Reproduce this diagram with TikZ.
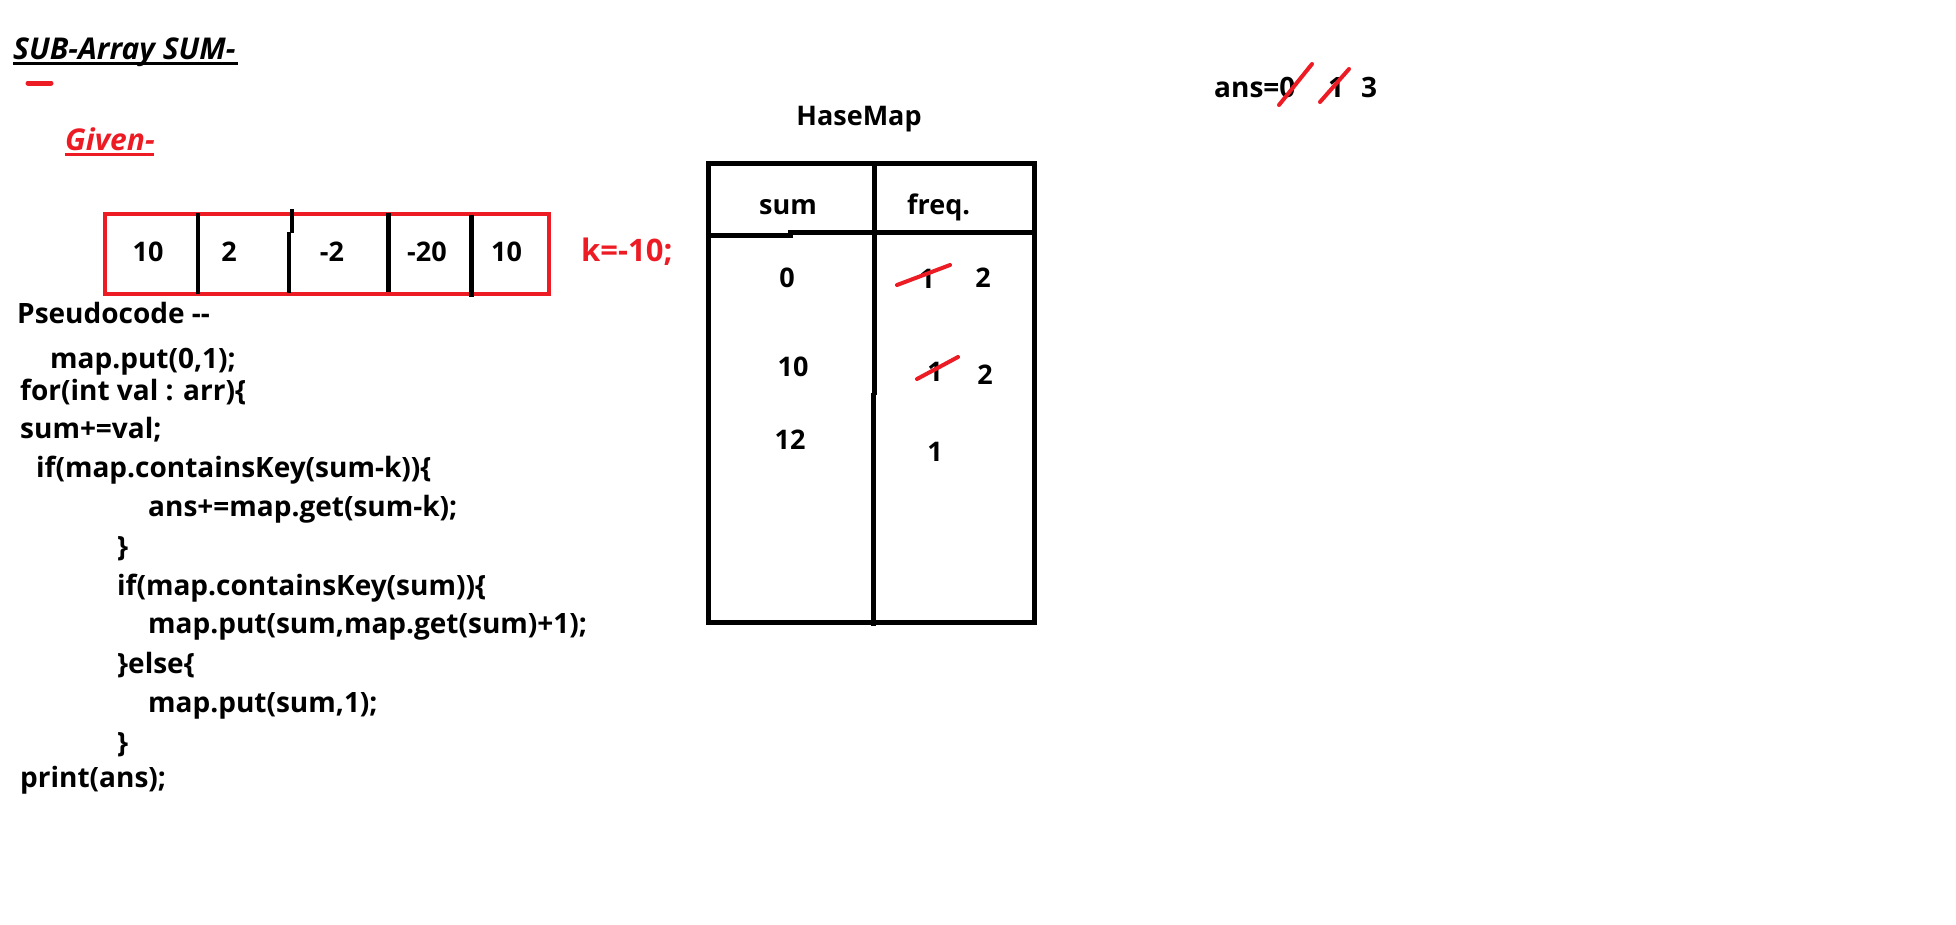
\documentclass[tikz,border=0pt]{standalone}
\usepackage{fontspec}
\setmainfont{Open Sans}
\definecolor{myred}{HTML}{ED1C24}
\begin{document}
\begin{tikzpicture}[x=1pt,y=-1pt,
  code/.style={font=\bfseries\fontsize{28}{28}\selectfont, inner sep=0, anchor=base west},
  big/.style={font=\bfseries\fontsize{27}{27}\selectfont, inner sep=0, anchor=base},
  num/.style={font=\bfseries\fontsize{27}{27}\selectfont, inner sep=0},
  redtxt/.style={text=myred},
  blk/.style={line width=4.5pt, draw=black},
  strike/.style={draw=myred, line width=4pt, line cap=round}]
\useasboundingbox (0,0) rectangle (1956,924);
% title
\node[code, font=\bfseries\itshape\fontsize{30}{30}\selectfont] (title) at (13,59) {SUB-Array SUM-};
\draw[line width=2.5pt] (13,63.5) -- (238,63.5);
\draw[myred, line width=5pt, line cap=round] (28,83) -- (51,83);
\node[code, redtxt, font=\bfseries\itshape\fontsize{30}{30}\selectfont] (given) at (65,150) {Given-};
\draw[myred, line width=2.5pt] (65,154.5) -- (154,154.5);
% array
\draw[myred, line width=4.5pt] (105,214) rectangle (549,294);
\draw[blk] (198,213) -- (198,294);
\draw[blk] (292,209) -- (292,233);
\draw[blk] (289,232) -- (289,293);
\draw[blk] (388.5,213) -- (388.5,292);
\draw[blk] (471.5,215) -- (471.5,297);
\node[num] (a1) at (148,252) {10};
\node[num] (a2) at (229,252) {2};
\node[num] (a3) at (332,252) {-2};
\node[num] (a4) at (427,252) {-20};
\node[num] (a5) at (506.5,252) {10};
\node[num, redtxt, anchor=west, font=\bfseries\fontsize{31}{31}\selectfont] (k) at (581,252) {k=-10;};
% pseudocode
\node[code] (p0) at (17,323) {Pseudocode {-}{-}};
\node[code] (p1) at (50,368) {map.put(0,1);};
\node[code] (p2) at (20,400) {for(int val : arr)\{};
\node[code] (p3) at (20,438) {sum+=val;};
\node[code] (p4) at (36,477) {if(map.containsKey(sum-k))\{};
\node[code] (p5) at (148,516) {ans+=map.get(sum-k);};
\node[code] (p6) at (117,556) {\}};
\node[code] (p7) at (117,595) {if(map.containsKey(sum))\{};
\node[code] (p8) at (148,633) {map.put(sum,map.get(sum)+1);};
\node[code] (p9) at (117,673) {\}else\{};
\node[code] (p10) at (148,712) {map.put(sum,1);};
\node[code] (p11) at (117,752) {\}};
\node[code] (p12) at (20,787) {print(ans);};
% hashmap
\node[big] (hm) at (859,125) {HaseMap};
\draw[line width=5pt] (708,163) rectangle (1034,622);
\draw[line width=5pt] (708,235) -- (790,235) -- (790,232) -- (1034,232);
\draw[line width=5pt] (874,163) -- (874,395);
\draw[line width=5pt] (873,393) -- (873,626);
\node[big] (hsum) at (788,214) {sum};
\node[big, anchor=base west] (hfreq) at (907,214) {freq.};
\node[num] (s0) at (787,278) {0};
\node[num] (s1) at (793,367) {10};
\node[num] (s2) at (790,440) {12};
\node[num] (f0) at (927,279) {1};
\node[num] (f0b) at (983,278) {2};
\draw[strike] (897,285) -- (950,265);
\node[num] (f1) at (935,372) {1};
\node[num] (f1b) at (985,375) {2};
\draw[strike] (917,379) -- (958,357);
\node[num] (f2) at (935,452) {1};
% ans
\node[code] (ans) at (1214,97) {ans=0};
\draw[strike] (1279,105) -- (1312,64);
\node[num, font=\bfseries\fontsize{28}{28}\selectfont, anchor=base] (ans1) at (1336,97) {1};
\draw[strike] (1320,102) -- (1349,69);
\node[num, font=\bfseries\fontsize{28}{28}\selectfont, anchor=base] (ans3) at (1369,97) {3};
\end{tikzpicture}
\end{document}
